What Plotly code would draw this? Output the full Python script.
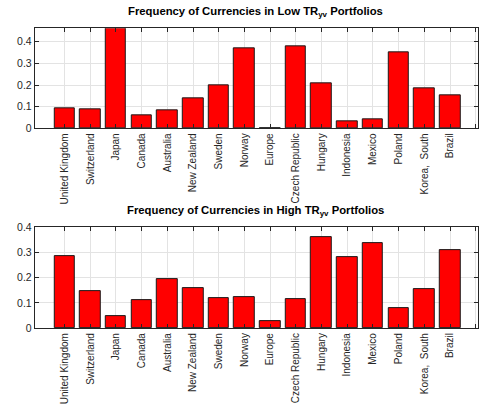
import plotly.graph_objects as go

# Currency labels, in bar order
currencies = ["United Kingdom", "Switzerland", "Japan", "Canada", "Australia",
              "New Zealand", "Sweden", "Norway", "Europe", "Czech Republic",
              "Hungary", "Indonesia", "Mexico", "Poland", "Korea,  South", "Brazil"]

# Share of portfolios containing each currency
low_freq = [0.093, 0.087, 0.462, 0.060, 0.084, 0.139, 0.200, 0.370, 0.0,
            0.379, 0.207, 0.033, 0.040, 0.352, 0.185, 0.154]
high_freq = [0.286, 0.148, 0.049, 0.112, 0.195, 0.158, 0.117, 0.121, 0.028,
             0.115, 0.359, 0.281, 0.336, 0.080, 0.153, 0.308]

W, H = 488, 415
positions = list(range(1, len(currencies) + 1))
tick_pos = positions + [len(currencies) + 1]
tick_txt = currencies + [" "]

axis_col = "#262626"
grid_col = "#e3e3e3"
font_fam = "Liberation Sans, Arial, sans-serif"

fig = go.Figure()
for i, vals in enumerate([low_freq, high_freq]):
    fig.add_trace(go.Bar(
        x=positions, y=vals, width=0.8,
        marker=dict(color="#ff0000", line=dict(color="#1a1a1a", width=1)),
        xaxis="x" if i == 0 else "x2", yaxis="y" if i == 0 else "y2",
        showlegend=False, hoverinfo="y",
    ))

def px_x(p):
    return p / W

def px_y(p):
    return 1 - p / H

xcommon = dict(
    range=[-0.16, 17.09], tickmode="array", tickvals=tick_pos, ticktext=tick_txt,
    tickangle=-90, ticks="inside", ticklen=4, tickcolor=axis_col,
    showline=True, linecolor=axis_col, linewidth=1, mirror="allticks",
    showgrid=True, gridcolor=grid_col, gridwidth=1, zeroline=False,
    tickfont=dict(family=font_fam, size=10, color=axis_col),
    domain=[px_x(35), px_x(481)],
)
ycommon = dict(
    ticks="inside", ticklen=4, tickcolor=axis_col, dtick=0.1, tick0=0,
    showline=True, linecolor=axis_col, linewidth=1, mirror="allticks",
    showgrid=True, gridcolor=grid_col, gridwidth=1, zeroline=False,
    tickfont=dict(family=font_fam, size=10.5, color=axis_col),
    tickformat="~g",
)

fig.update_layout(
    width=W, height=H, margin=dict(l=0, r=0, t=0, b=0),
    paper_bgcolor="white", plot_bgcolor="white", bargap=0,
    xaxis=dict(xcommon, anchor="y"),
    yaxis=dict(ycommon, range=[0, 0.462], domain=[px_y(126), px_y(23)], anchor="x"),
    xaxis2=dict(xcommon, anchor="y2"),
    yaxis2=dict(ycommon, range=[0, 0.4], domain=[px_y(331.7), px_y(227.7)], anchor="x2"),
)

titles = [("Low", 15), ("High", 220)]
for label, ypix in titles:
    fig.add_annotation(
        text=f"<b>Frequency of Currencies in {label} TR<sub>yv</sub> Portfolios</b>",
        xref="paper", yref="paper", x=px_x(257), y=px_y(ypix),
        xanchor="center", yanchor="bottom", showarrow=False,
        font=dict(family=font_fam, size=11.3, color="black"),
    )

fig.write_html("out.html")
